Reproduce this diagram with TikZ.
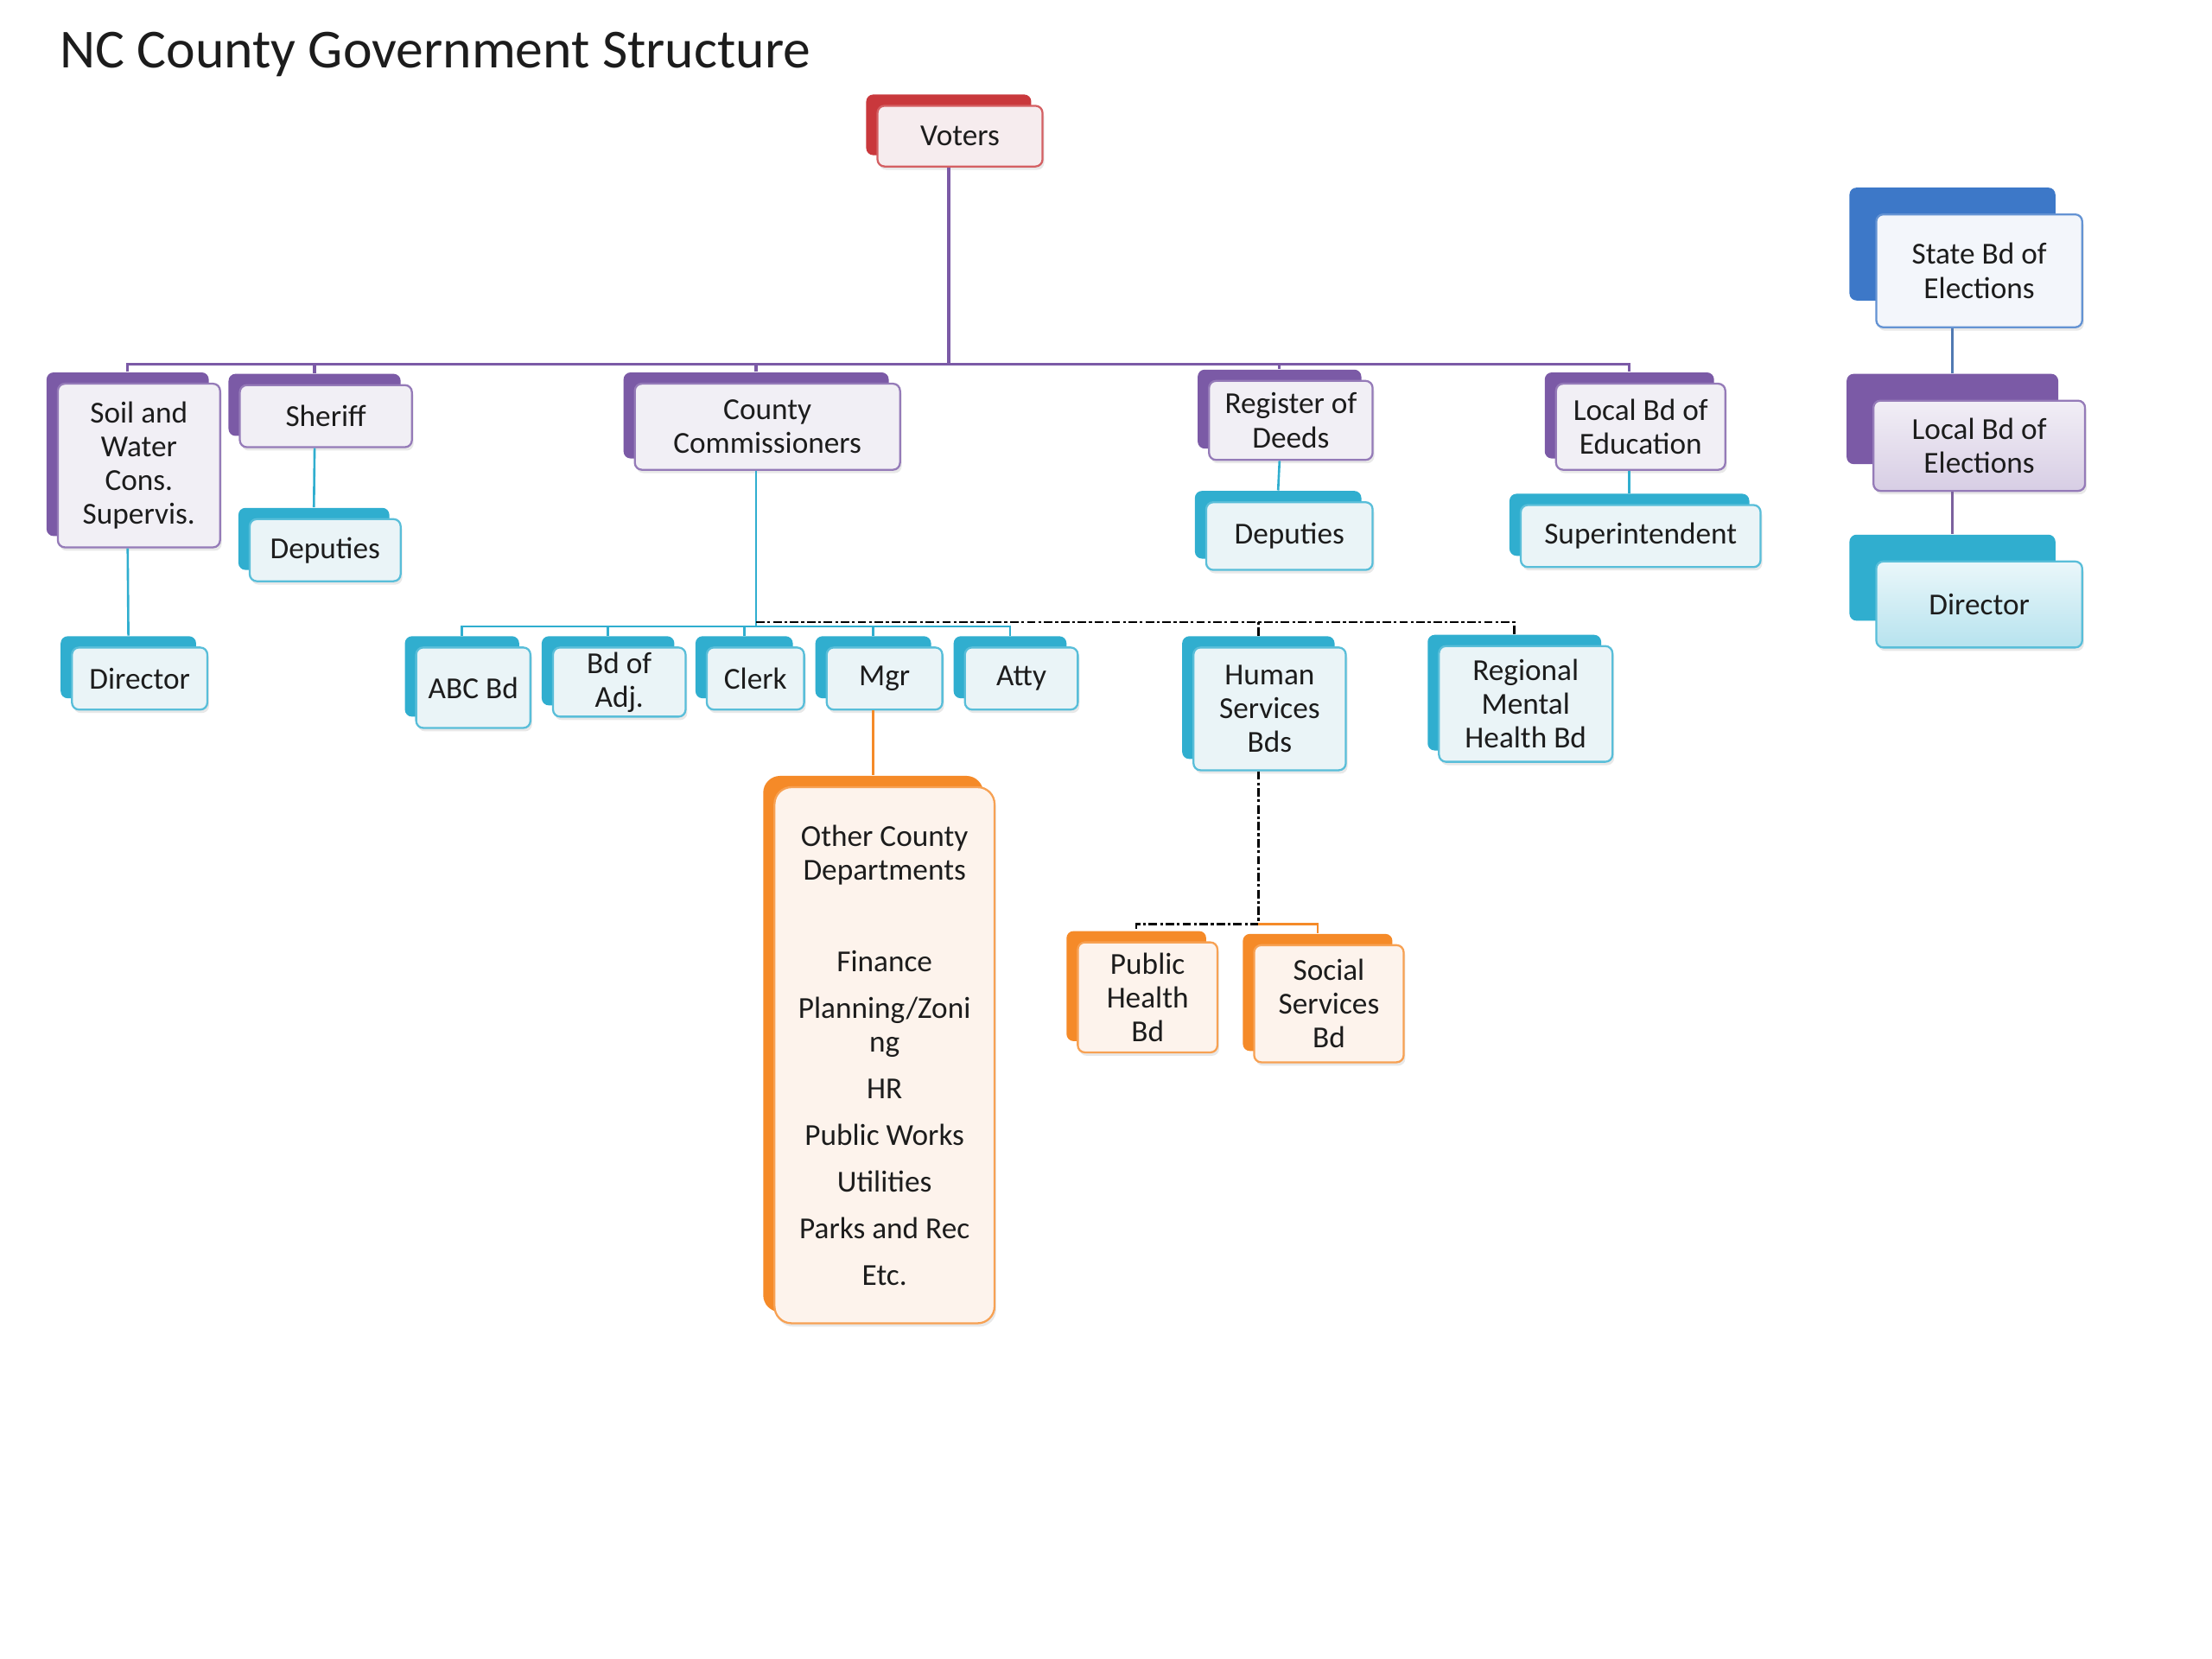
\documentclass[tikz,border=0pt]{standalone}
\usepackage{fontspec}
\setmainfont{Carlito}
\usetikzlibrary{shadows}
\definecolor{purp}{HTML}{7B5AA6}
\definecolor{purpf}{HTML}{F1EFF5}
\definecolor{redc}{HTML}{C9383C}
\definecolor{redf}{HTML}{F6ECEE}
\definecolor{tealc}{HTML}{30AECF}
\definecolor{tealf}{HTML}{EAF4F7}
\definecolor{orac}{HTML}{F58A28}
\definecolor{oraf}{HTML}{FDF3EC}
\definecolor{bluec}{HTML}{3D78C8}
\definecolor{bluef}{HTML}{F3F6FB}
\definecolor{txt}{HTML}{1C1C1C}
\tikzset{
  backbox/.style={rounded corners=2.5pt, inner sep=0pt, draw=none},
  frontbox/.style={rounded corners=2.5pt, inner sep=0pt, line width=0.7pt, align=center,
    text=txt, font=\fontsize{10.8}{12}\selectfont,
    drop shadow={shadow xshift=0.6pt, shadow yshift=-1.2pt, opacity=0.18}},
  orgextra/.style={},
  frontextra/.style={},
  pline/.style={draw=purp, line width=1pt},
  tline/.style={draw=tealc, line width=0.8pt},
  oline/.style={draw=orac, line width=0.8pt},
  dline/.style={draw=black, line width=0.8pt, dash pattern=on 3pt off 1pt on 1pt off 1pt},
}
\newcommand\orgbox[9]{%
  \pgfmathsetmacro\obx{(#4+#6)/2}%
  \pgfmathsetmacro\oby{(#5+#7)/2}%
  \pgfmathsetmacro\obw{(#6-#4)*0.5}%
  \pgfmathsetmacro\obh{(#7-#5)*0.5}%
  \pgfmathsetmacro\obbx{\obx+(#8)}%
  \pgfmathsetmacro\obby{\oby+(#8)}%
  \node[backbox, fill=#2, minimum width=\obw pt, minimum height=\obh pt, orgextra] (#1-b) at (\obbx,\obby) {};
  \node[frontbox, draw=#2!80!white, fill=#3, minimum width=\obw pt, minimum height=\obh pt, orgextra, frontextra] (#1) at (\obx,\oby) {#9};
}
\begin{document}
\begin{tikzpicture}[x=0.5pt,y=-0.5pt]
\useasboundingbox[fill=white] (0,0) rectangle (1568,1176);

\node[anchor=base west, inner sep=0pt, text=txt, font=\fontsize{19.5}{23}\selectfont] (title) at (42,48) {NC County Government Structure};

\coordinate (bus1) at (0,258);
\coordinate (bus2) at (0,444);
\coordinate (bus2d) at (0,441);
\coordinate (bus3) at (0,655);

% top
\orgbox{voters}{redc}{redf}{622}{75}{739}{118}{-8}{Voters}
% purple row
\orgbox{soil}{purp}{purpf}{41}{272}{156}{388}{-8}{Soil and\\Water\\Cons.\\Supervis.}
\orgbox{sheriff}{purp}{purpf}{170}{273}{292}{317}{-8}{Sheriff}
\orgbox{comm}{purp}{purpf}{450}{272}{638}{333}{-8}{County\\Commissioners}
\orgbox{deeds}{purp}{purpf}{857}{270}{973}{326}{-8}{Register of\\Deeds}
\orgbox{educ}{purp}{purpf}{1103}{272}{1223}{333}{-8}{Local Bd of\\Education}
% teal under purple
\orgbox{dep1}{tealc}{tealf}{177}{368}{284}{412}{-8}{Deputies}
\orgbox{dir1}{tealc}{tealf}{51}{459}{147}{503}{-8}{Director}
\orgbox{dep2}{tealc}{tealf}{855}{356}{973}{404}{-8}{Deputies}
\orgbox{supt}{tealc}{tealf}{1078}{358}{1248}{402}{-8}{Superintendent}
% commissioners row
\orgbox{abc}{tealc}{tealf}{295}{459}{376}{516}{-8}{ABC Bd}
\orgbox{adj}{tealc}{tealf}{392}{459}{486}{508}{-8}{Bd of\\Adj.}
\orgbox{clerk}{tealc}{tealf}{501}{459}{570}{503}{-8}{Clerk}
\orgbox{mgr}{tealc}{tealf}{586}{459}{668}{503}{-8}{Mgr}
\orgbox{atty}{tealc}{tealf}{684}{459}{764}{503}{-8}{Atty}
\orgbox{hs}{tealc}{tealf}{846}{459}{954}{546}{-8}{Human\\Services\\Bds}
\orgbox{rmh}{tealc}{tealf}{1020}{458}{1143}{540}{-8}{Regional\\Mental\\Health Bd}
% orange
\tikzset{orgextra/.style={rounded corners=6pt}}
\orgbox{other}{orac}{oraf}{549}{558}{705}{938}{-8}{Other County\\Departments\\[20.5pt]Finance\\[4.5pt]Planning/Zoni\\ng\\[4.5pt]HR\\[4.5pt]Public Works\\[4.5pt]Utilities\\[4.5pt]Parks and Rec\\[4.5pt]Etc.}
\tikzset{orgextra/.style={}}
\orgbox{ph}{orac}{oraf}{764}{668}{863}{746}{-8}{Public\\Health\\Bd}
\orgbox{ss}{orac}{oraf}{889}{670}{995}{753}{-8}{Social\\Services\\Bd}
% right column
\orgbox{state}{bluec}{bluef}{1330}{152}{1476}{232}{-19}{State Bd of\\Elections}
\tikzset{frontextra/.style={top color=purp!10!white, bottom color=purp!30!white}}
\orgbox{locel}{purp}{purpf}{1328}{284}{1478}{348}{-19}{Local Bd of\\Elections}
\tikzset{frontextra/.style={top color=tealc!10!white, bottom color=tealc!35!white}}
\orgbox{dir2}{tealc}{tealf}{1330}{398}{1476}{459}{-19}{Director}
\tikzset{frontextra/.style={}}

% connectors: voters bus
\draw[pline] (voters-b |- voters.south) -- (voters-b |- bus1);
\draw[pline] (soil-b.north) -- (soil-b |- bus1) -- (educ-b |- bus1) -- (educ-b.north);
\draw[pline] (sheriff-b.north) -- (sheriff-b |- bus1);
\draw[pline] (comm-b.north) -- (comm-b |- bus1);
\draw[pline] (deeds-b.north) -- (deeds-b |- bus1);
% purple to teal
\draw[tline] (soil-b |- soil.south) -- (dir1-b.north);
\draw[tline] (sheriff-b |- sheriff.south) -- (dep1-b.north);
\draw[tline] (deeds-b |- deeds.south) -- (dep2-b.north);
\draw[tline] (educ-b |- educ.south) -- (supt-b.north);
% commissioners bus
\draw[tline] (comm-b |- comm.south) -- (comm-b |- bus2);
\draw[tline] (abc-b.north) -- (abc-b |- bus2) -- (atty-b |- bus2) -- (atty-b.north);
\draw[tline] (adj-b.north) -- (adj-b |- bus2);
\draw[tline] (clerk-b.north) -- (clerk-b |- bus2);
\draw[tline] (mgr-b.north) -- (mgr-b |- bus2);
\draw[dline] (comm-b |- bus2d) -- (rmh-b |- bus2d) -- (rmh-b.north);
\draw[dline] (hs-b.north) -- (hs-b |- bus2d);
% mgr to other
\draw[oline] (mgr-b |- mgr.south) -- (other-b.north);
% human services
\draw[dline] (hs-b |- hs.south) -- (hs-b |- bus3) -- (ph-b |- bus3) -- (ph-b.north);
\draw[oline] (hs-b |- bus3) -- (ss-b |- bus3) -- (ss-b.north);
% right column
\draw[draw=bluec!70!gray, line width=0.7pt] (state-b |- state.south) -- (locel-b.north);
\draw[draw=purp!80!gray, line width=0.7pt] (locel-b |- locel.south) -- (dir2-b.north);
\end{tikzpicture}
\end{document}
